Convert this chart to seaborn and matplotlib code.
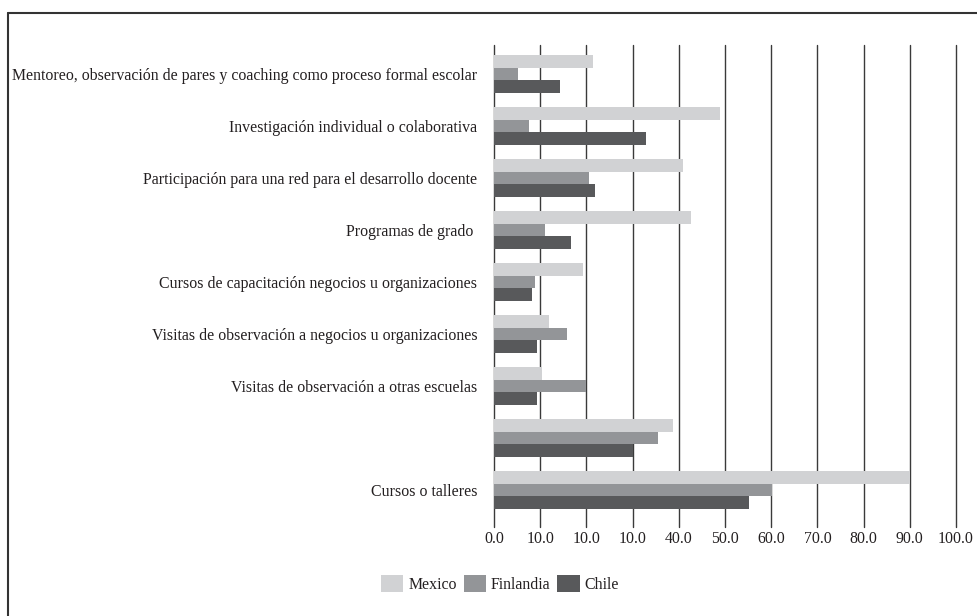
import matplotlib
matplotlib.use("Agg")
import matplotlib.pyplot as plt
from matplotlib.lines import Line2D
import seaborn as sns
import pandas as pd

categories = [
    "Mentoreo, observación de pares y coaching como proceso formal escolar",
    "Investigación individual o colaborativa",
    "Participación para una red para el desarrollo docente",
    "Programas de grado ",
    "Cursos de capacitación negocios u organizaciones",
    "Visitas de observación a negocios u organizaciones",
    "Visitas de observación a otras escuelas",
    "",
    "Cursos o talleres",
]
series = ["Mexico", "Finlandia", "Chile"]
mexico = [21.4, 49.0, 41.0, 42.7, 19.2, 11.9, 10.4, 38.7, 90.1]
finlandia = [5.2, 7.6, 20.5, 11.0, 8.9, 15.7, 19.9, 35.4, 60.2]
chile = [14.3, 32.8, 21.8, 16.6, 8.2, 9.3, 9.3, 30.0, 55.1]
xtick_values = [0, 10, 20, 30, 40, 50, 60, 70, 80, 90, 100]
xtick_labels = ["0.0", "10.0", "10.0", "10.0", "40.0", "50.0", "60.0",
                "70.0", "80.0", "90.0", "100.0"]
colors = ["#d1d2d4", "#939598", "#58595b"]

rows = []
for s, vals in zip(series, [mexico, finlandia, chile]):
    for c, v in zip(categories, vals):
        rows.append({"categoria": c, "valor": v, "pais": s})
df = pd.DataFrame(rows)

sns.set_theme(style="white")
plt.rcParams["font.family"] = ["Liberation Serif", "DejaVu Serif"]
text_color = "#231f20"
fs = 11.4

fig = plt.figure(figsize=(9.77, 6.16), dpi=100)
ax = fig.add_axes([494 / 977, 1 - 527 / 616, (956 - 494) / 977, (527 - 45) / 616])

sns.barplot(data=df, y="categoria", x="valor", hue="pais", order=categories,
            hue_order=series, palette=colors, orient="h", width=0.72, gap=0,
            saturation=1, ax=ax, legend=True, zorder=3, linewidth=0,
            edgecolor="none")

ax.set_xlim(0, 100)
ax.set_ylim(8.71, -0.56)
ax.set_xticks(xtick_values)
ax.set_xticklabels(xtick_labels, fontsize=fs, color=text_color)
ax.set_yticks(range(len(categories)))
ax.set_yticklabels(categories, fontsize=fs, color=text_color)
ax.tick_params(axis="x", length=0, pad=3)
ax.tick_params(axis="y", length=0, pad=12)
ax.set_xlabel("")
ax.set_ylabel("")
for sp in ax.spines.values():
    sp.set_visible(False)
ax.grid(axis="x", color="#3a3a3a", linewidth=1.0, zorder=0)
ax.grid(axis="y", visible=False)
ax.set_axisbelow(True)
for gl in ax.get_xgridlines():
    gl.set_clip_on(False)

handles, labels = ax.get_legend_handles_labels()
ax.legend_.remove()
fig.legend(handles, labels, loc="center", bbox_to_anchor=(500 / 977, 1 - 584 / 616),
           ncol=3, frameon=False, fontsize=fs, handlelength=1.4, handleheight=1.3,
           handletextpad=0.3, columnspacing=0.45, labelcolor=text_color)

fig.add_artist(Line2D([8 / 977, 8 / 977], [0, 1 - 13 / 616], color="#333333", lw=1.5))
fig.add_artist(Line2D([8 / 977, 1], [1 - 13 / 616, 1 - 13 / 616], color="#333333", lw=1.5))

fig.savefig("out.png", dpi=100)
